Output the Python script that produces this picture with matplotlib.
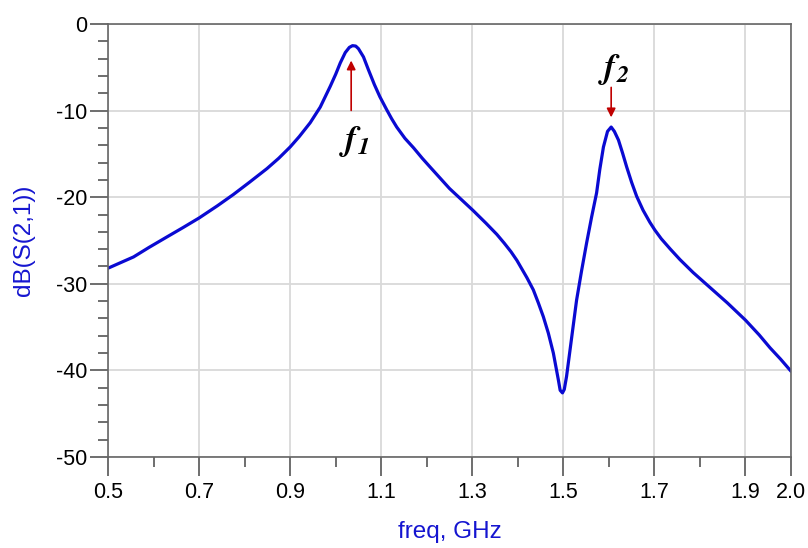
import matplotlib.pyplot as plt
import numpy as np

# S21 response
freq = [0.500, 0.556, 0.590, 0.629, 0.665, 0.700, 0.740, 0.775, 0.810, 0.849,
        0.875, 0.900, 0.920, 0.944, 0.966, 0.988, 1.000, 1.010, 1.021, 1.030,
        1.037, 1.044, 1.050, 1.061, 1.072, 1.085, 1.097, 1.112, 1.123, 1.134,
        1.152, 1.171, 1.190, 1.207, 1.250, 1.301, 1.330, 1.354, 1.370, 1.385,
        1.398, 1.420, 1.434, 1.445, 1.456, 1.467, 1.478, 1.489, 1.493, 1.498,
        1.502, 1.507, 1.515, 1.529, 1.540, 1.551, 1.562, 1.573, 1.580, 1.588,
        1.597, 1.605, 1.612, 1.621, 1.630, 1.639, 1.650, 1.661, 1.675, 1.690,
        1.701, 1.715, 1.735, 1.756, 1.785, 1.815, 1.860, 1.900, 1.930, 1.954,
        1.977, 2.000]
s21_db = [-28.2, -26.9, -25.8, -24.6, -23.5, -22.4, -21.0, -19.7, -18.3, -16.7,
          -15.5, -14.2, -13.0, -11.4, -9.6, -7.2, -5.8, -4.5, -3.3, -2.7,
          -2.5, -2.55, -2.85, -3.8, -5.3, -7.0, -8.4, -9.9, -10.95, -11.9,
          -13.2, -14.3, -15.5, -16.5, -19.0, -21.5, -23.0, -24.3, -25.3, -26.3,
          -27.3, -29.3, -30.7, -32.2, -33.8, -35.7, -38.0, -41.1, -42.3, -42.6,
          -42.2, -40.7, -37.5, -31.9, -28.5, -25.3, -22.3, -19.5, -16.8, -14.2,
          -12.4, -11.9, -12.4, -13.4, -14.9, -16.5, -18.3, -19.9, -21.5, -22.9,
          -23.8, -24.8, -26.0, -27.2, -28.7, -30.1, -32.2, -34.2, -35.9, -37.4,
          -38.7, -40.1]

x_major = [0.5, 0.7, 0.9, 1.1, 1.3, 1.5, 1.7, 1.9, 2.0]
x_minor = [0.6, 0.8, 1.0, 1.2, 1.4, 1.6, 1.8]
x_labels = ["0.5", "0.7", "0.9", "1.1", "1.3", "1.5", "1.7", "1.9", "2.0"]

plt.rcParams['font.family'] = ['Liberation Sans', 'DejaVu Sans']
plt.rcParams['mathtext.fontset'] = 'stix'
plt.rcParams['axes.unicode_minus'] = False

fig = plt.figure(figsize=(8.08, 5.48), dpi=100)
ax = fig.add_axes([0.1337, 0.1661, 0.979 - 0.1337, 0.9562 - 0.1661])

ax.plot(freq, s21_db, color='#0a0ad2', linewidth=2.3,
        solid_joinstyle='round', solid_capstyle='round')

ax.set_xlim(0.5, 2.0)
ax.set_ylim(-50, 0)
ax.set_xticks(x_major)
ax.set_xticklabels(x_labels)
ax.set_xticks(x_minor, minor=True)
ax.set_yticks(np.arange(-50, 1, 10))
ax.set_yticks(np.arange(-50, 1, 2), minor=True)

ax.grid(True, which='major', color='#d9d9d9', linewidth=1.3)
ax.set_axisbelow(True)

ax.tick_params(axis='both', which='major', direction='out', color='#555555',
               width=1.2, labelsize=15.5)
ax.tick_params(axis='x', which='major', length=14, pad=4)
ax.tick_params(axis='y', which='major', length=13, pad=2)
ax.tick_params(axis='both', which='minor', direction='out', color='#555555',
               width=1.2, length=7)
for s in ax.spines.values():
    s.set_color('#666666')
    s.set_linewidth(1.2)

ax.set_xlabel("freq, GHz", color='#1515d0', fontsize=17.5, labelpad=13)
ax.set_ylabel("dB(S(2,1))", color='#1515d0', fontsize=17.5, labelpad=15)

# peak markers
red = '#c00000'
ax.annotate("", xy=(1.034, -3.9), xytext=(1.034, -10.3),
            arrowprops=dict(arrowstyle='-|>', color=red, lw=1.2, mutation_scale=13))
ax.text(1.040, -13.6, r'$\mathbfit{f}_{\mathbfit{1}}$', fontsize=25,
        ha='center', va='center')
ax.annotate("", xy=(1.605, -11.1), xytext=(1.605, -7.0),
            arrowprops=dict(arrowstyle='-|>', color=red, lw=1.2, mutation_scale=13))
ax.text(1.611, -5.3, r'$\mathbfit{f}_{\mathbfit{2}}$', fontsize=25,
        ha='center', va='center')

fig.savefig("out.png", dpi=100)
